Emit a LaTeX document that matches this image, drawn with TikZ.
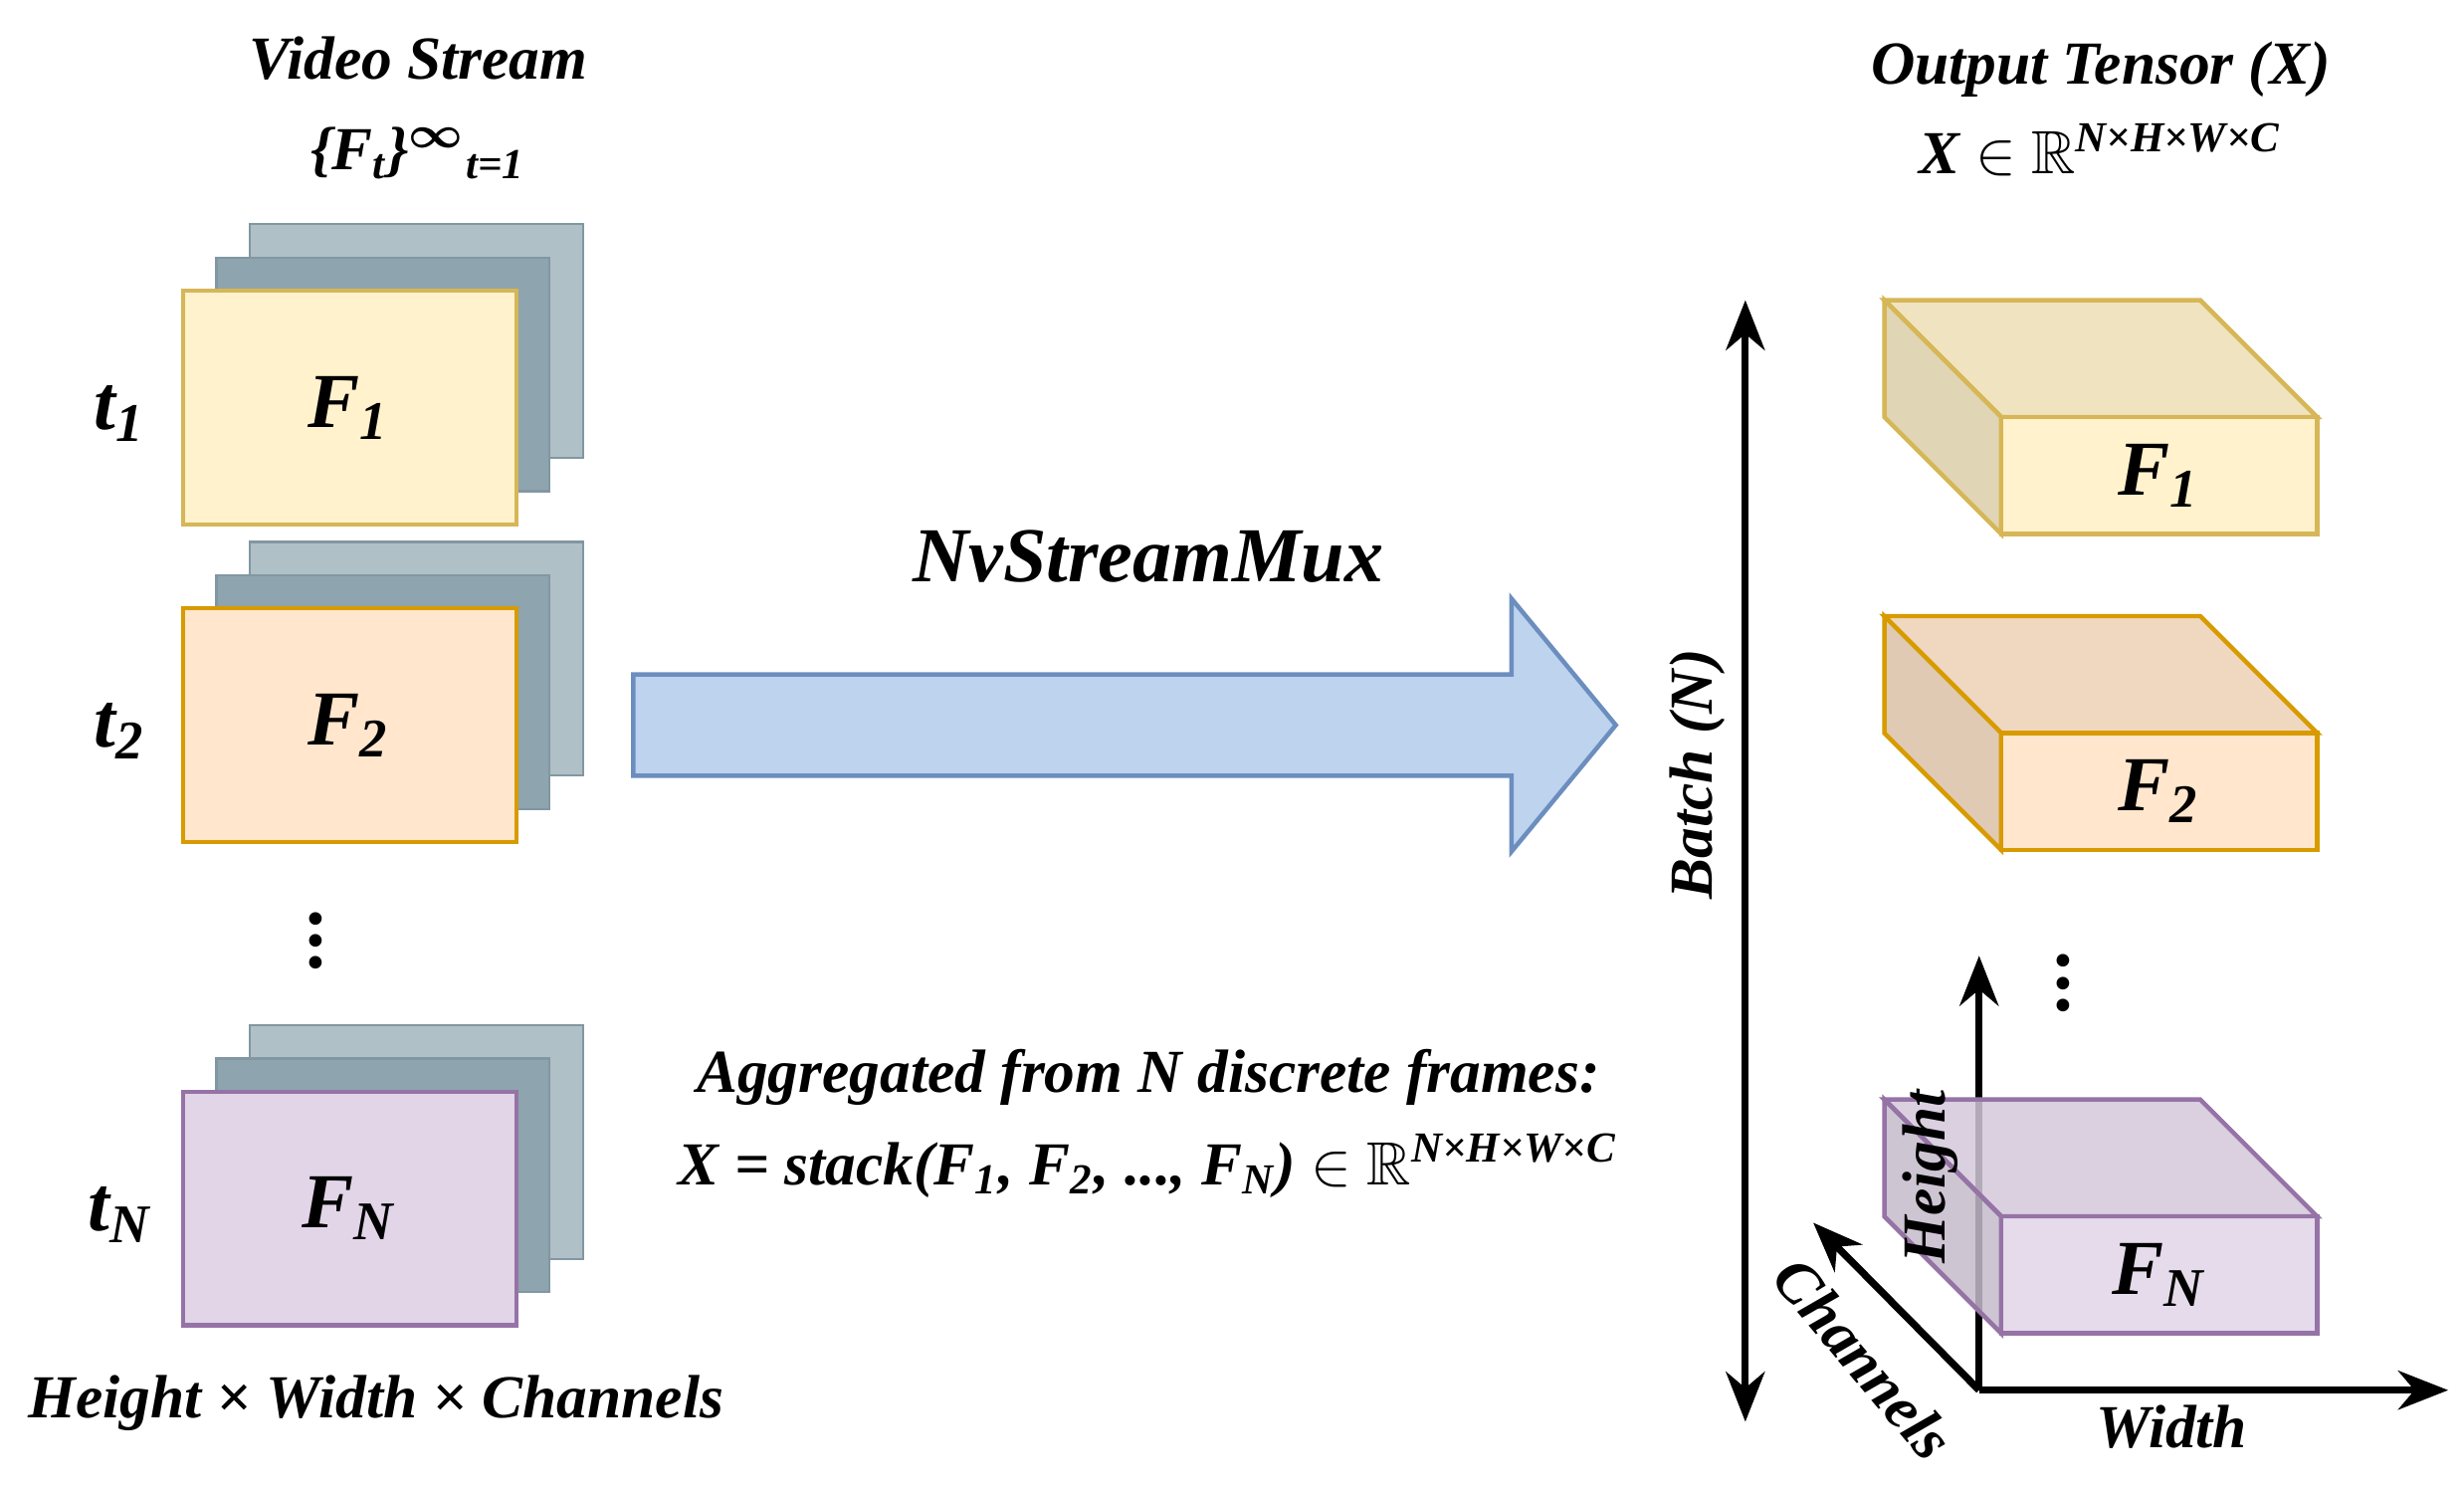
\documentclass[tikz,border=0pt]{standalone}
\usepackage{amsmath,amssymb,bm}
\usepackage{fontspec}
\setmainfont{Liberation Serif}
\usetikzlibrary{arrows.meta}
\definecolor{ybg}{HTML}{FFF2CC}\definecolor{yst}{HTML}{D6B656}
\definecolor{obg}{HTML}{FFE6CC}\definecolor{ost}{HTML}{D79B00}
\definecolor{pbg}{HTML}{E1D5E7}\definecolor{pst}{HTML}{9673A6}
\definecolor{gback}{HTML}{B0C0C7}\definecolor{gmid}{HTML}{8EA4AE}\definecolor{gst}{HTML}{8197A1}
\definecolor{abg}{HTML}{BDD3EE}\definecolor{ast}{HTML}{6C8EBF}
\newcommand{\sbs}[1]{\textsubscript{#1}}
\newcommand{\sps}[1]{\textsuperscript{#1}}
\newcommand{\RR}{$\mathbb{R}$}
\begin{document}
\begin{tikzpicture}[x=0.01cm,y=-0.01cm,
  lab/.style={font=\bfseries\itshape\fontsize{11}{13}\selectfont, inner sep=0},
  big/.style={font=\bfseries\itshape\fontsize{14}{16}\selectfont, inner sep=0},
  ax/.style={line width=1.3pt,-{Stealth[length=9pt,width=7pt]}}]
\useasboundingbox (0,0) rectangle (1560,943);
\node[lab] (vs) at (265,37) {Video Stream};
\node[lab] (ft) at (265,97) {\{F\sbs{t}\}\sps{$\bm\infty$}\sbs{t=1}};
% frame stacks
\foreach \dy/\bg/\st/\nm/\tl/\id in {0/ybg/yst/F\sbs{1}/t\sbs{1}/a,201/obg/ost/F\sbs{2}/t\sbs{2}/b,507/pbg/pst/F\sbs{N}/t\sbs{N}/c}{
  \draw[gst,fill=gback] (158,142+\dy) rectangle (369,290+\dy);
  \draw[gst,fill=gmid] (137,163+\dy) rectangle (348,311+\dy);
  \draw[\st,fill=\bg,line width=0.8pt] (116,184+\dy) rectangle (327,332+\dy);
  \node[big] (f\id) at (221,258+\dy) {\nm};
  \node[big] (t\id) at (76,262+\dy) {\tl};
}
\node[big] (vd) at (202,585) {$\bm{\vdots}$};
\node[lab] (hwc) at (238,888) {Height × Width × Channels};
% big arrow
\draw[ast,fill=abg,line width=0.8pt] (401,427) -- (957,427) -- (957,379) -- (1023,459) -- (957,539) -- (957,491) -- (401,491) -- cycle;
\node[big] (mux) at (727,352) {NvStreamMux};
\node[lab] (agg) at (727,682) {Aggregated from N discrete frames:};
\node[lab] (form) at (727,738) {X = stack(F\sbs{1}, F\sbs{2}, ..., F\sbs{N}) $\in$ \RR\sps{N×H×W×C}};
% right
\node[lab] (ot) at (1330,44) {Output Tensor (X)};
\node[lab] (xr) at (1330,95) {X $\in$ \RR\sps{N×H×W×C}};
\coordinate (bt) at (1105,190); \coordinate (bb) at (1105,900);
\draw[line width=1.3pt,{Stealth[length=9pt,width=7pt]}-{Stealth[length=9pt,width=7pt]}] (bt) -- (bb);
\node[lab,rotate=90] (bl) at (1075,490) {Batch (N)};
\coordinate (o) at (1253,880); \coordinate (hu) at (1253,605);
\coordinate (wr) at (1550,880); \coordinate (cd) at (1148,774);
\draw[ax] (o) -- (hu);
\draw[ax] (o) -- (wr);
\draw[ax] (o) -- (cd);
\foreach \dy/\bg/\st/\nm/\id/\op in {0/ybg/yst/F\sbs{1}/a/1,200/obg/ost/F\sbs{2}/b/1,506/pbg/pst/F\sbs{N}/c/0.85}{
  \begin{scope}[fill opacity=\op]
  \draw[\st,fill=\bg!94!black,line width=0.8pt] (1193,190+\dy) -- (1393,190+\dy) -- (1467,264+\dy) -- (1267,264+\dy) -- cycle;
  \draw[\st,fill=\bg!88!black,line width=0.8pt] (1193,190+\dy) -- (1267,264+\dy) -- (1267,338+\dy) -- (1193,264+\dy) -- cycle;
  \draw[\st,fill=\bg,line width=0.8pt] (1267,264+\dy) rectangle (1467,338+\dy);
  \end{scope}
  \node[big] (g\id) at (1367,301+\dy) {\nm};
}
\node[big] (vd2) at (1308,612) {$\bm{\vdots}$};
\node[lab,rotate=90] (hl) at (1222,745) {Height};
\node[lab] (wl) at (1375,903) {Width};
\node[lab,rotate=-50] (cl) at (1180,860) {Channels};
\end{tikzpicture}
\end{document}
